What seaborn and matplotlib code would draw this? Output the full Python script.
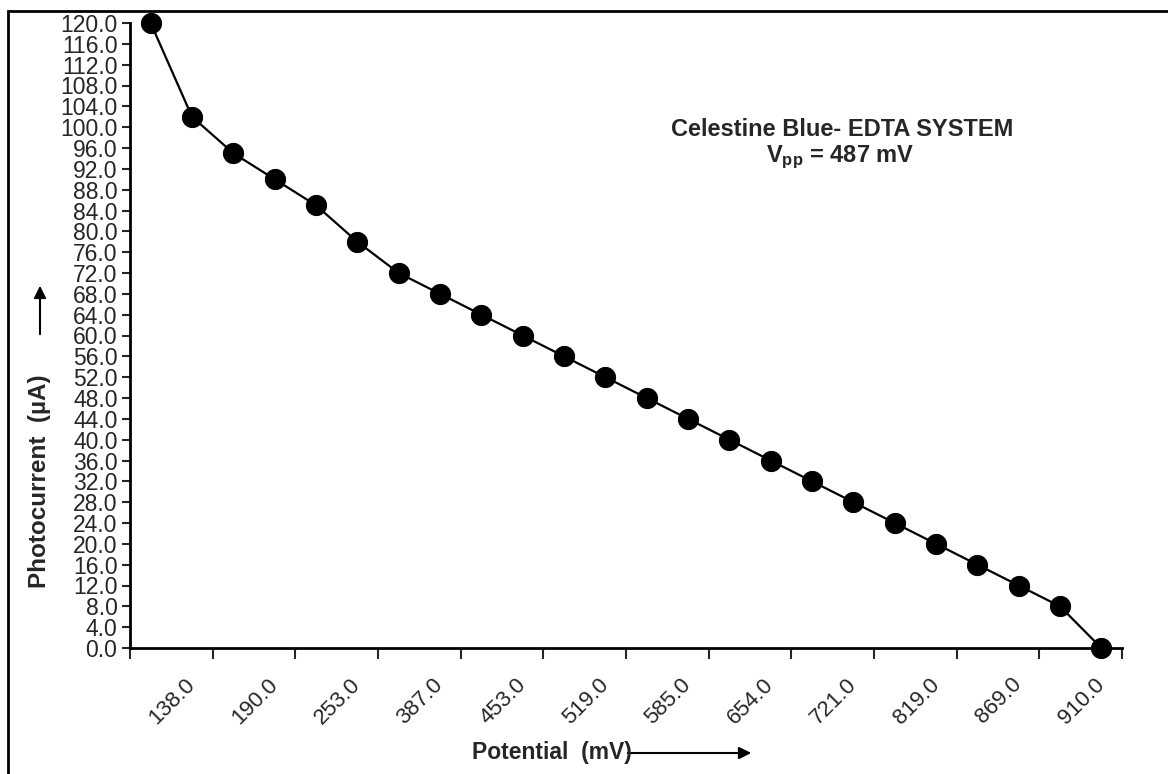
import numpy as np
import matplotlib
matplotlib.use("Agg")
import matplotlib.pyplot as plt
from matplotlib.patches import Rectangle
import seaborn as sns

photocurrent = [120, 102, 95, 90, 85, 78, 72, 68, 64, 60, 56, 52,
                48, 44, 40, 36, 32, 28, 24, 20, 16, 12, 8, 0]
# only every other point carries a potential label on the x axis
potential_labels = ["138.0", "190.0", "253.0", "387.0", "453.0", "519.0",
                    "585.0", "654.0", "721.0", "819.0", "869.0", "910.0"]
y_ticks = list(range(0, 121, 4))

W, H = 1168, 774

sns.set_style("ticks")
plt.rcParams['font.family'] = ['Liberation Sans', 'DejaVu Sans']
plt.rcParams['mathtext.default'] = 'regular'

fig = plt.figure(figsize=(W / 100, H / 100), dpi=100)
ax = fig.add_axes([130 / W, 1 - 648 / H, 992 / W, 625 / H])

positions = np.arange(len(photocurrent))
sns.lineplot(x=positions, y=photocurrent, ax=ax, color='black', linewidth=1.6,
             marker='o', markersize=14.5, markeredgecolor='black',
             markerfacecolor='black', clip_on=False, zorder=3)

ax.set_xlim(-0.5, len(photocurrent) - 0.5)
ax.set_ylim(0, 120)
ax.set_yticks(y_ticks, labels=[f"{v:.1f}" for v in y_ticks])

# category boundary ticks (no labels) + labels on odd points
ax.set_xticks(np.arange(-0.5, len(photocurrent), 2), labels=[])
ax.set_xticks(positions[1::2], labels=potential_labels, minor=True)
ax.tick_params(axis='x', which='major', direction='out', length=8, width=1.5)
ax.tick_params(axis='x', which='minor', length=0, pad=24, labelsize=16)
for lbl in ax.get_xticklabels(minor=True):
    lbl.set_rotation(45)
    lbl.set_ha('right')
    lbl.set_va('center')
    lbl.set_rotation_mode('anchor')
ax.tick_params(axis='y', direction='out', length=6, width=1.5, labelsize=16.5, pad=3)

sns.despine(ax=ax)
for s in ['left', 'bottom']:
    ax.spines[s].set_linewidth(2)
    ax.spines[s].set_color('black')
ax.set_xlabel("")
ax.set_ylabel("")

# outer frame
fig.patches.append(Rectangle((8 / W, -0.1), 1.2, 1 - 11 / H + 0.1, fill=False,
                             edgecolor='black', linewidth=2,
                             transform=fig.transFigure, figure=fig))

# annotation
fig.text(842 / W, 1 - 130 / H, "Celestine Blue- EDTA SYSTEM", ha='center',
         va='center', fontsize=17, fontweight='bold')
fig.text(840 / W, 1 - 157 / H, "V$_{pp}$ = 487 mV", ha='center',
         va='center', fontsize=17, fontweight='bold')

# axis titles with arrows
fig.text(40 / W, 1 - 481 / H, "Photocurrent  (\u00b5A)", rotation=90,
         ha='center', va='center', fontsize=17.5, fontweight='bold')
ax.annotate("", xy=(40 / W, 1 - 283 / H), xytext=(40 / W, 1 - 337 / H),
            xycoords='figure fraction', textcoords='figure fraction',
            arrowprops=dict(arrowstyle='-|>', color='black', lw=1.5,
                            mutation_scale=18))
fig.text(472 / W, 1 - 752 / H, "Potential  (mV)", ha='left', va='center',
         fontsize=16.5, fontweight='bold')
ax.annotate("", xy=(754 / W, 1 - 753 / H), xytext=(625 / W, 1 - 753 / H),
            xycoords='figure fraction', textcoords='figure fraction',
            arrowprops=dict(arrowstyle='-|>', color='black', lw=1.5,
                            mutation_scale=18))

fig.savefig("out.png", dpi=100)
